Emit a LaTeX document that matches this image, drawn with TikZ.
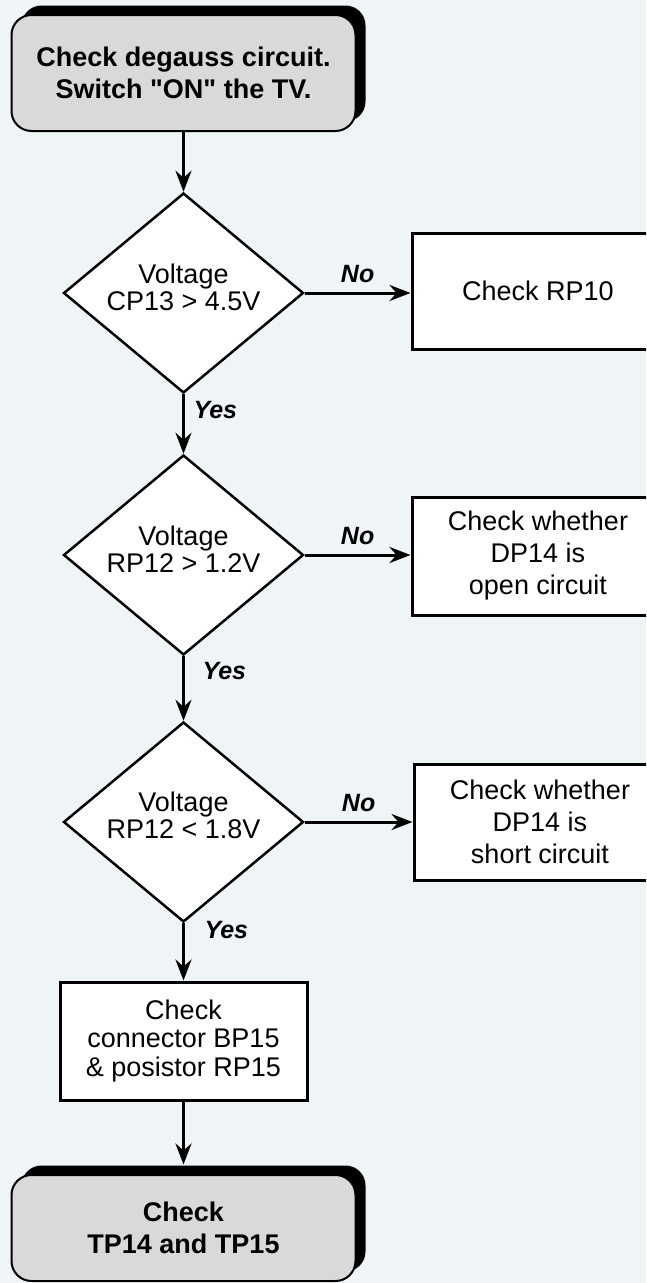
\documentclass[tikz,border=0pt]{standalone}
\usepackage{fontspec}
\setmainfont{Liberation Sans}[Ligatures=TeXOff]
\usetikzlibrary{arrows.meta,shapes.geometric,shadows}
\definecolor{bgc}{HTML}{EFF4F7}
\definecolor{termc}{HTML}{D9D9D9}
\begin{document}
\begin{tikzpicture}[x=1pt,y=-1pt,
  term/.style={draw=black, line width=2pt, fill=termc, rounded corners=20pt,
    minimum width=344pt, minimum height=116pt, align=center, inner sep=0pt,
    font=\bfseries\fontsize{27}{32}\selectfont,
    general shadow={fill=black, shadow xshift=10pt, shadow yshift=9.5pt}},
  diam/.style={diamond, aspect=1.2, draw=black, line width=2.5pt, fill=white,
    minimum width=240pt, minimum height=200pt, inner sep=0pt},
  box/.style={rectangle, draw=black, line width=3pt, fill=white,
    minimum width=252pt, minimum height=116pt, align=center, inner sep=0pt,
    font=\fontsize{27}{32}\selectfont},
  txt/.style={align=center, inner sep=0pt, font=\fontsize{27}{27}\selectfont},
  arr/.style={-{Stealth[length=21pt,width=16pt,inset=7pt]}, line width=3pt},
  lab/.style={inner sep=0pt, font=\bfseries\itshape\fontsize{25}{25}\selectfont}
]
\fill[bgc] (0,0) rectangle (646,1283);
\useasboundingbox (0,0) rectangle (646,1283);
\clip (0,0) rectangle (646,1283);

\node[term] (start) at (183.5,73) {Check degauss circuit.\\Switch "ON" the TV.};

\node[diam] (d1) at (183.5,293) {};
\node[txt] (d1t) at ([yshift=6pt]d1.center) {Voltage\\CP13 > 4.5V};
\node[box] (b1) at (538,291) {Check RP10};

\node[diam] (d2) at (183.5,555) {};
\node[txt] (d2t) at ([yshift=6pt]d2.center) {Voltage\\RP12 > 1.2V};
\node[box, minimum height=118pt] (b2) at (538,556) {Check whether\\DP14 is\\open circuit};

\node[diam] (d3) at (183.5,822) {};
\node[txt] (d3t) at ([yshift=7pt]d3.center) {Voltage\\RP12 < 1.8V};
\node[box] (b3) at (540,822) {Check whether\\DP14 is\\short circuit};

\node[box, minimum width=247pt, minimum height=118pt, font=\fontsize{27}{28.5}\selectfont] (b4) at (183.5,1041) {Check\\connector BP15\\\& posistor RP15};

\node[term, minimum height=106pt] (end) at (183.5,1228) {Check\\TP14 and TP15};

\draw[arr] (start.south) -- (d1.north);
\draw[arr] (d1.east) -- node[lab, above=9pt] (no1) {No} (d1.east -| b1.west);
\draw[arr] (d1.south) -- node[lab, pos=0.27, anchor=west, xshift=8.5pt] (yes1) {Yes} (d2.north);
\draw[arr] (d2.east) -- node[lab, above=9pt] (no2) {No} (d2.east -| b2.west);
\draw[arr] (d2.south) -- node[lab, pos=0.23, anchor=west, xshift=17.5pt] (yes2) {Yes} (d3.north);
\draw[arr] (d3.east) -- node[lab, above=9pt] (no3) {No} (d3.east -| b3.west);
\draw[arr] (d3.south) -- node[lab, pos=0.11, anchor=west, xshift=19.5pt] (yes3) {Yes} (b4.north);
\draw[arr] (b4.south) -- ([yshift=9.5pt]end.north);
\end{tikzpicture}
\end{document}
